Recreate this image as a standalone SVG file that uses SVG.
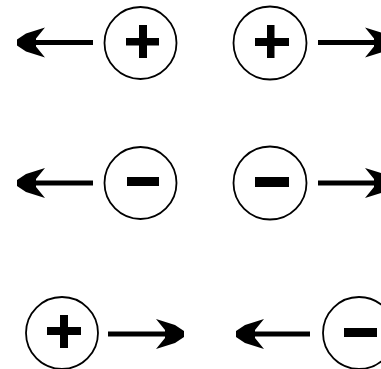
<svg xmlns="http://www.w3.org/2000/svg" width="381" height="369" viewBox="0 0 381 369">
  <style>
    .ring { fill: none; stroke: #000; stroke-width: 1.8; }
    .sign { fill: #000; }
    .shaft { fill: none; stroke: #000; stroke-width: 5; marker-end: url(#head); }
  </style>
  <defs>
    <marker id="head" markerUnits="userSpaceOnUse" viewBox="-32 -16 34 32" refX="-14" refY="0" markerWidth="34" markerHeight="32" orient="auto" overflow="visible">
      <path d="M1,-3 L1,3 L-8,9 L-27,15 L-18,4 L-18,-4 L-27,-15 L-8,-9 Z" fill="#000"/>
    </marker>
  </defs>
  <rect width="381" height="369" fill="#fff"/>
  <g id="pos-top-left">
    <circle class="ring" cx="140.5" cy="43" r="36"/>
    <rect class="sign" x="126" y="38" width="33" height="7.5"/>
    <rect class="sign" x="139" y="25" width="8" height="33"/>
  </g>
  <g id="pos-top-right">
    <circle class="ring" cx="270" cy="43" r="36.5"/>
    <rect class="sign" x="255" y="38" width="34" height="8"/>
    <rect class="sign" x="267" y="25" width="7.5" height="33"/>
  </g>
  <g id="neg-mid-left">
    <circle class="ring" cx="140.5" cy="183" r="36"/>
    <rect class="sign" x="127" y="177" width="32" height="9"/>
  </g>
  <g id="neg-mid-right">
    <circle class="ring" cx="270" cy="183" r="36.5"/>
    <rect class="sign" x="255" y="177" width="34" height="10"/>
  </g>
  <g id="pos-bottom-left">
    <circle class="ring" cx="62" cy="333" r="36"/>
    <rect class="sign" x="47" y="327" width="34" height="8"/>
    <rect class="sign" x="60" y="315" width="8" height="33"/>
  </g>
  <g id="neg-bottom-right">
    <circle class="ring" cx="359" cy="333" r="36"/>
    <rect class="sign" x="344" y="328" width="33" height="9"/>
  </g>
  <g id="connectors">
    <line class="shaft" x1="93" y1="42.5" x2="32" y2="42.5"/>
    <line class="shaft" x1="318" y1="42.5" x2="378" y2="42.5"/>
    <line class="shaft" x1="93" y1="183" x2="32" y2="183"/>
    <line class="shaft" x1="318" y1="183" x2="378" y2="183"/>
    <line class="shaft" x1="108" y1="334" x2="169" y2="334"/>
    <line class="shaft" x1="310" y1="334" x2="251" y2="334"/>
  </g>
</svg>
